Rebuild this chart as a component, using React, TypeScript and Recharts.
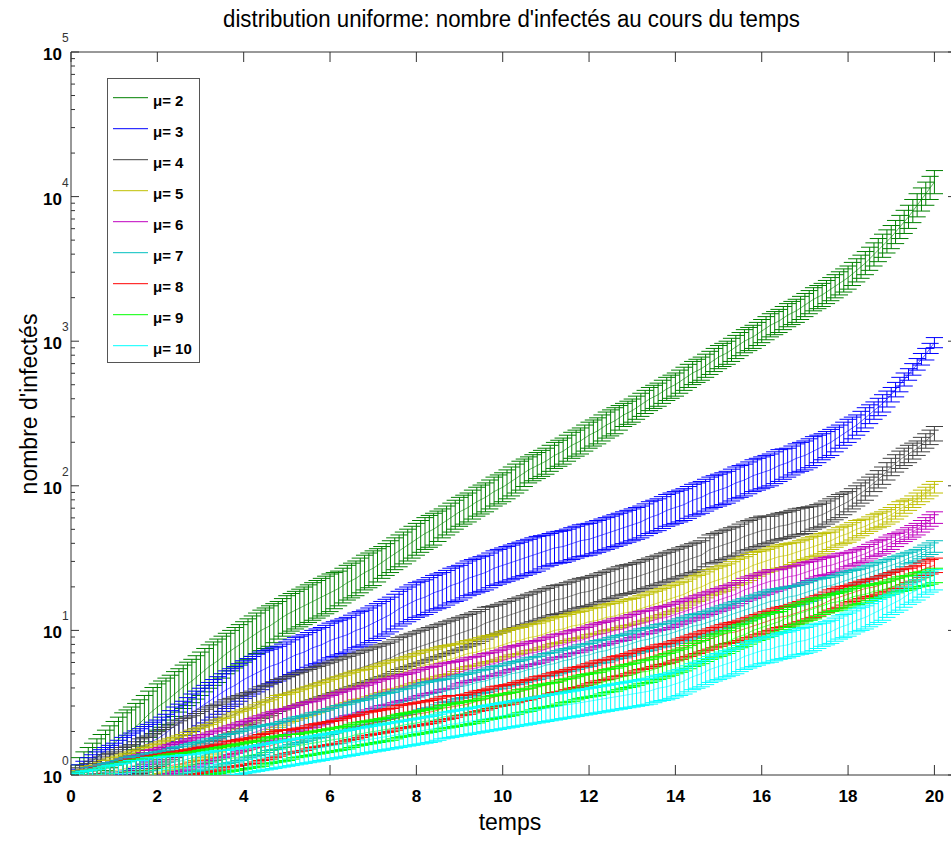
import React from 'react';
import { LineChart, Line, XAxis, YAxis, ErrorBar, ReferenceArea } from 'recharts';

// Time axis (temps): one sample every 0.1, each row covers one unit of time
const times = [
  0,
  0.1, 0.2, 0.3, 0.4, 0.5, 0.6, 0.7, 0.8, 0.9, 1,
  1.1, 1.2, 1.3, 1.4, 1.5, 1.6, 1.7, 1.8, 1.9, 2,
  2.1, 2.2, 2.3, 2.4, 2.5, 2.6, 2.7, 2.8, 2.9, 3,
  3.1, 3.2, 3.3, 3.4, 3.5, 3.6, 3.7, 3.8, 3.9, 4,
  4.1, 4.2, 4.3, 4.4, 4.5, 4.6, 4.7, 4.8, 4.9, 5,
  5.1, 5.2, 5.3, 5.4, 5.5, 5.6, 5.7, 5.8, 5.9, 6,
  6.1, 6.2, 6.3, 6.4, 6.5, 6.6, 6.7, 6.8, 6.9, 7,
  7.1, 7.2, 7.3, 7.4, 7.5, 7.6, 7.7, 7.8, 7.9, 8,
  8.1, 8.2, 8.3, 8.4, 8.5, 8.6, 8.7, 8.8, 8.9, 9,
  9.1, 9.2, 9.3, 9.4, 9.5, 9.6, 9.7, 9.8, 9.9, 10,
  10.1, 10.2, 10.3, 10.4, 10.5, 10.6, 10.7, 10.8, 10.9, 11,
  11.1, 11.2, 11.3, 11.4, 11.5, 11.6, 11.7, 11.8, 11.9, 12,
  12.1, 12.2, 12.3, 12.4, 12.5, 12.6, 12.7, 12.8, 12.9, 13,
  13.1, 13.2, 13.3, 13.4, 13.5, 13.6, 13.7, 13.8, 13.9, 14,
  14.1, 14.2, 14.3, 14.4, 14.5, 14.6, 14.7, 14.8, 14.9, 15,
  15.1, 15.2, 15.3, 15.4, 15.5, 15.6, 15.7, 15.8, 15.9, 16,
  16.1, 16.2, 16.3, 16.4, 16.5, 16.6, 16.7, 16.8, 16.9, 17,
  17.1, 17.2, 17.3, 17.4, 17.5, 17.6, 17.7, 17.8, 17.9, 18,
  18.1, 18.2, 18.3, 18.4, 18.5, 18.6, 18.7, 18.8, 18.9, 19,
  19.1, 19.2, 19.3, 19.4, 19.5, 19.6, 19.7, 19.8, 19.9, 20,
];

// Mean number of infected, as log10 (decades), for each mu
const mu2 = [
  0,
  0.02, 0.04, 0.06, 0.08, 0.10, 0.12, 0.145, 0.17, 0.195, 0.22,
  0.245, 0.27, 0.29, 0.31, 0.335, 0.36, 0.39, 0.42, 0.445, 0.47,
  0.49, 0.51, 0.535, 0.56, 0.585, 0.61, 0.63, 0.65, 0.675, 0.70,
  0.725, 0.75, 0.77, 0.79, 0.815, 0.84, 0.86, 0.88, 0.90, 0.92,
  0.94, 0.96, 0.98, 1.00, 1.015, 1.03, 1.05, 1.07, 1.09, 1.11,
  1.125, 1.14, 1.155, 1.17, 1.185, 1.20, 1.215, 1.23, 1.245, 1.26,
  1.275, 1.29, 1.31, 1.33, 1.345, 1.36, 1.38, 1.40, 1.415, 1.43,
  1.45, 1.47, 1.49, 1.51, 1.53, 1.55, 1.57, 1.59, 1.61, 1.63,
  1.65, 1.67, 1.685, 1.70, 1.72, 1.74, 1.76, 1.78, 1.80, 1.82,
  1.835, 1.85, 1.87, 1.89, 1.905, 1.92, 1.94, 1.96, 1.975, 1.99,
  2.01, 2.03, 2.05, 2.07, 2.09, 2.11, 2.125, 2.14, 2.155, 2.17,
  2.19, 2.21, 2.225, 2.24, 2.26, 2.28, 2.295, 2.31, 2.33, 2.35,
  2.365, 2.38, 2.40, 2.42, 2.435, 2.45, 2.47, 2.49, 2.505, 2.52,
  2.54, 2.56, 2.58, 2.60, 2.615, 2.63, 2.65, 2.67, 2.685, 2.70,
  2.72, 2.74, 2.76, 2.78, 2.795, 2.81, 2.83, 2.85, 2.87, 2.89,
  2.905, 2.92, 2.94, 2.96, 2.98, 3.00, 3.015, 3.03, 3.05, 3.07,
  3.09, 3.11, 3.125, 3.14, 3.16, 3.18, 3.195, 3.21, 3.23, 3.25,
  3.27, 3.29, 3.305, 3.32, 3.34, 3.36, 3.38, 3.40, 3.42, 3.44,
  3.465, 3.49, 3.515, 3.54, 3.57, 3.60, 3.63, 3.66, 3.69, 3.72,
  3.755, 3.79, 3.825, 3.86, 3.90, 3.94, 3.98, 4.02, 4.06, 4.10,
];
const mu3 = [
  0,
  0.01, 0.02, 0.03, 0.04, 0.05, 0.06, 0.07, 0.08, 0.09, 0.10,
  0.115, 0.13, 0.145, 0.16, 0.175, 0.19, 0.205, 0.22, 0.235, 0.25,
  0.27, 0.29, 0.315, 0.34, 0.36, 0.38, 0.405, 0.43, 0.45, 0.47,
  0.49, 0.51, 0.53, 0.55, 0.57, 0.59, 0.605, 0.62, 0.64, 0.66,
  0.675, 0.69, 0.705, 0.72, 0.735, 0.75, 0.76, 0.77, 0.785, 0.80,
  0.815, 0.83, 0.84, 0.85, 0.865, 0.88, 0.89, 0.90, 0.915, 0.93,
  0.94, 0.95, 0.96, 0.97, 0.985, 1.00, 1.01, 1.02, 1.035, 1.05,
  1.065, 1.08, 1.095, 1.11, 1.13, 1.15, 1.165, 1.18, 1.195, 1.21,
  1.22, 1.23, 1.245, 1.26, 1.27, 1.28, 1.295, 1.31, 1.32, 1.33,
  1.345, 1.36, 1.37, 1.38, 1.39, 1.40, 1.415, 1.43, 1.44, 1.45,
  1.46, 1.47, 1.48, 1.49, 1.50, 1.51, 1.52, 1.53, 1.54, 1.55,
  1.56, 1.57, 1.575, 1.58, 1.59, 1.60, 1.61, 1.62, 1.625, 1.63,
  1.64, 1.65, 1.66, 1.67, 1.68, 1.69, 1.70, 1.71, 1.72, 1.73,
  1.74, 1.75, 1.765, 1.78, 1.79, 1.80, 1.815, 1.83, 1.84, 1.85,
  1.86, 1.87, 1.885, 1.90, 1.91, 1.92, 1.935, 1.95, 1.96, 1.97,
  1.98, 1.99, 2.005, 2.02, 2.03, 2.04, 2.055, 2.07, 2.08, 2.09,
  2.10, 2.11, 2.125, 2.14, 2.15, 2.16, 2.175, 2.19, 2.20, 2.21,
  2.225, 2.24, 2.255, 2.27, 2.285, 2.30, 2.32, 2.34, 2.36, 2.38,
  2.40, 2.42, 2.445, 2.47, 2.495, 2.52, 2.545, 2.57, 2.60, 2.63,
  2.665, 2.70, 2.735, 2.77, 2.805, 2.84, 2.875, 2.91, 2.95, 2.99,
];
const mu4 = [
  0,
  0.005, 0.01, 0.015, 0.02, 0.025, 0.03, 0.04, 0.05, 0.055, 0.06,
  0.07, 0.08, 0.09, 0.10, 0.115, 0.13, 0.14, 0.15, 0.165, 0.18,
  0.195, 0.21, 0.225, 0.24, 0.255, 0.27, 0.28, 0.29, 0.305, 0.32,
  0.335, 0.35, 0.36, 0.37, 0.385, 0.40, 0.41, 0.42, 0.435, 0.45,
  0.46, 0.47, 0.485, 0.50, 0.51, 0.52, 0.535, 0.55, 0.56, 0.57,
  0.58, 0.59, 0.60, 0.61, 0.62, 0.63, 0.64, 0.65, 0.66, 0.67,
  0.68, 0.69, 0.70, 0.71, 0.72, 0.73, 0.74, 0.75, 0.76, 0.77,
  0.78, 0.79, 0.80, 0.81, 0.825, 0.84, 0.85, 0.86, 0.87, 0.88,
  0.89, 0.90, 0.91, 0.92, 0.93, 0.94, 0.95, 0.96, 0.97, 0.98,
  0.99, 1.00, 1.01, 1.02, 1.035, 1.05, 1.06, 1.07, 1.08, 1.09,
  1.10, 1.11, 1.12, 1.13, 1.14, 1.15, 1.16, 1.17, 1.18, 1.19,
  1.20, 1.21, 1.215, 1.22, 1.23, 1.24, 1.25, 1.26, 1.265, 1.27,
  1.28, 1.29, 1.30, 1.31, 1.32, 1.33, 1.34, 1.35, 1.355, 1.36,
  1.37, 1.38, 1.39, 1.40, 1.41, 1.42, 1.43, 1.44, 1.45, 1.46,
  1.47, 1.48, 1.49, 1.50, 1.51, 1.52, 1.54, 1.56, 1.57, 1.58,
  1.59, 1.60, 1.61, 1.62, 1.635, 1.65, 1.66, 1.67, 1.68, 1.69,
  1.695, 1.70, 1.71, 1.72, 1.725, 1.73, 1.74, 1.75, 1.755, 1.76,
  1.77, 1.78, 1.79, 1.80, 1.815, 1.83, 1.845, 1.86, 1.875, 1.89,
  1.91, 1.93, 1.95, 1.97, 1.995, 2.02, 2.045, 2.07, 2.10, 2.13,
  2.155, 2.18, 2.20, 2.22, 2.24, 2.26, 2.285, 2.31, 2.335, 2.36,
];
const mu5 = [
  0,
  0.00, 0.00, 0.00, 0.01, 0.01, 0.01, 0.015, 0.02, 0.025, 0.03,
  0.035, 0.04, 0.05, 0.06, 0.065, 0.07, 0.08, 0.09, 0.10, 0.11,
  0.12, 0.13, 0.14, 0.15, 0.16, 0.17, 0.185, 0.20, 0.21, 0.22,
  0.23, 0.24, 0.255, 0.27, 0.28, 0.29, 0.305, 0.32, 0.33, 0.34,
  0.35, 0.36, 0.375, 0.39, 0.40, 0.41, 0.425, 0.44, 0.45, 0.46,
  0.47, 0.48, 0.49, 0.50, 0.51, 0.52, 0.53, 0.54, 0.55, 0.56,
  0.57, 0.58, 0.59, 0.60, 0.61, 0.62, 0.625, 0.63, 0.64, 0.65,
  0.66, 0.67, 0.68, 0.69, 0.695, 0.70, 0.71, 0.72, 0.73, 0.74,
  0.75, 0.76, 0.765, 0.77, 0.78, 0.79, 0.795, 0.80, 0.81, 0.82,
  0.83, 0.84, 0.845, 0.85, 0.86, 0.87, 0.875, 0.88, 0.89, 0.90,
  0.91, 0.92, 0.925, 0.93, 0.94, 0.95, 0.955, 0.96, 0.97, 0.98,
  0.99, 1.00, 1.005, 1.01, 1.02, 1.03, 1.035, 1.04, 1.05, 1.06,
  1.065, 1.07, 1.08, 1.09, 1.095, 1.10, 1.11, 1.12, 1.125, 1.13,
  1.14, 1.15, 1.16, 1.17, 1.18, 1.19, 1.20, 1.21, 1.22, 1.23,
  1.24, 1.25, 1.265, 1.28, 1.29, 1.30, 1.315, 1.33, 1.34, 1.35,
  1.36, 1.37, 1.385, 1.40, 1.41, 1.42, 1.435, 1.45, 1.46, 1.47,
  1.48, 1.49, 1.50, 1.51, 1.515, 1.52, 1.53, 1.54, 1.55, 1.56,
  1.57, 1.58, 1.59, 1.60, 1.61, 1.62, 1.635, 1.65, 1.66, 1.67,
  1.685, 1.70, 1.71, 1.72, 1.735, 1.75, 1.76, 1.77, 1.785, 1.80,
  1.82, 1.84, 1.855, 1.87, 1.89, 1.91, 1.93, 1.95, 1.97, 1.99,
];
const mu6 = [
  0,
  0.00, 0.00, 0.00, 0.01, 0.01, 0.01, 0.015, 0.02, 0.02, 0.02,
  0.025, 0.03, 0.035, 0.04, 0.045, 0.05, 0.06, 0.07, 0.075, 0.08,
  0.09, 0.10, 0.11, 0.12, 0.125, 0.13, 0.14, 0.15, 0.16, 0.17,
  0.18, 0.19, 0.20, 0.21, 0.22, 0.23, 0.24, 0.25, 0.26, 0.27,
  0.28, 0.29, 0.30, 0.31, 0.32, 0.33, 0.34, 0.35, 0.36, 0.37,
  0.38, 0.39, 0.40, 0.41, 0.415, 0.42, 0.43, 0.44, 0.45, 0.46,
  0.47, 0.48, 0.49, 0.50, 0.505, 0.51, 0.52, 0.53, 0.54, 0.55,
  0.56, 0.57, 0.575, 0.58, 0.59, 0.60, 0.605, 0.61, 0.62, 0.63,
  0.64, 0.65, 0.655, 0.66, 0.67, 0.68, 0.685, 0.69, 0.70, 0.71,
  0.72, 0.73, 0.735, 0.74, 0.75, 0.76, 0.765, 0.77, 0.78, 0.79,
  0.80, 0.81, 0.815, 0.82, 0.83, 0.84, 0.845, 0.85, 0.86, 0.87,
  0.88, 0.89, 0.895, 0.90, 0.91, 0.92, 0.925, 0.93, 0.94, 0.95,
  0.96, 0.97, 0.975, 0.98, 0.99, 1.00, 1.005, 1.01, 1.02, 1.03,
  1.04, 1.05, 1.055, 1.06, 1.07, 1.08, 1.085, 1.09, 1.10, 1.11,
  1.12, 1.13, 1.14, 1.15, 1.16, 1.17, 1.18, 1.19, 1.20, 1.21,
  1.22, 1.23, 1.24, 1.25, 1.265, 1.28, 1.29, 1.30, 1.31, 1.32,
  1.33, 1.34, 1.345, 1.35, 1.36, 1.37, 1.375, 1.38, 1.39, 1.40,
  1.41, 1.42, 1.43, 1.44, 1.445, 1.45, 1.46, 1.47, 1.48, 1.49,
  1.50, 1.51, 1.52, 1.53, 1.545, 1.56, 1.57, 1.58, 1.595, 1.61,
  1.625, 1.64, 1.655, 1.67, 1.685, 1.70, 1.72, 1.74, 1.76, 1.78,
];
const mu7 = [
  0,
  0.00, 0.00, 0.00, 0.01, 0.01, 0.01, 0.015, 0.02, 0.02, 0.02,
  0.025, 0.03, 0.035, 0.04, 0.04, 0.04, 0.045, 0.05, 0.055, 0.06,
  0.065, 0.07, 0.08, 0.09, 0.095, 0.10, 0.11, 0.12, 0.125, 0.13,
  0.14, 0.15, 0.155, 0.16, 0.17, 0.18, 0.185, 0.19, 0.20, 0.21,
  0.22, 0.23, 0.235, 0.24, 0.25, 0.26, 0.265, 0.27, 0.28, 0.29,
  0.30, 0.31, 0.315, 0.32, 0.33, 0.34, 0.345, 0.35, 0.36, 0.37,
  0.38, 0.39, 0.395, 0.40, 0.41, 0.42, 0.425, 0.43, 0.44, 0.45,
  0.46, 0.47, 0.475, 0.48, 0.49, 0.50, 0.505, 0.51, 0.52, 0.53,
  0.54, 0.55, 0.555, 0.56, 0.57, 0.58, 0.585, 0.59, 0.60, 0.61,
  0.615, 0.62, 0.63, 0.64, 0.645, 0.65, 0.66, 0.67, 0.675, 0.68,
  0.69, 0.70, 0.705, 0.71, 0.72, 0.73, 0.735, 0.74, 0.75, 0.76,
  0.765, 0.77, 0.78, 0.79, 0.795, 0.80, 0.81, 0.82, 0.825, 0.83,
  0.84, 0.85, 0.855, 0.86, 0.87, 0.88, 0.885, 0.89, 0.90, 0.91,
  0.92, 0.93, 0.935, 0.94, 0.95, 0.96, 0.965, 0.97, 0.98, 0.99,
  1.00, 1.01, 1.02, 1.03, 1.035, 1.04, 1.05, 1.06, 1.07, 1.08,
  1.09, 1.10, 1.11, 1.12, 1.13, 1.14, 1.15, 1.16, 1.17, 1.18,
  1.19, 1.20, 1.205, 1.21, 1.22, 1.23, 1.235, 1.24, 1.25, 1.26,
  1.27, 1.28, 1.29, 1.30, 1.305, 1.31, 1.32, 1.33, 1.34, 1.35,
  1.36, 1.37, 1.38, 1.39, 1.40, 1.41, 1.42, 1.43, 1.44, 1.45,
  1.46, 1.47, 1.485, 1.50, 1.51, 1.52, 1.535, 1.55, 1.565, 1.58,
];
const mu8 = [
  0,
  0.00, 0.00, 0.00, 0.00, 0.00, 0.01, 0.01, 0.01, 0.01, 0.01,
  0.015, 0.02, 0.025, 0.03, 0.03, 0.03, 0.035, 0.04, 0.045, 0.05,
  0.055, 0.06, 0.065, 0.07, 0.075, 0.08, 0.085, 0.09, 0.095, 0.10,
  0.105, 0.11, 0.115, 0.12, 0.13, 0.14, 0.145, 0.15, 0.155, 0.16,
  0.165, 0.17, 0.18, 0.19, 0.195, 0.20, 0.21, 0.22, 0.225, 0.23,
  0.235, 0.24, 0.245, 0.25, 0.26, 0.27, 0.275, 0.28, 0.285, 0.29,
  0.295, 0.30, 0.31, 0.32, 0.325, 0.33, 0.34, 0.35, 0.355, 0.36,
  0.365, 0.37, 0.375, 0.38, 0.39, 0.40, 0.405, 0.41, 0.415, 0.42,
  0.425, 0.43, 0.435, 0.44, 0.45, 0.46, 0.465, 0.47, 0.475, 0.48,
  0.485, 0.49, 0.50, 0.51, 0.515, 0.52, 0.53, 0.54, 0.545, 0.55,
  0.555, 0.56, 0.57, 0.58, 0.585, 0.59, 0.60, 0.61, 0.615, 0.62,
  0.63, 0.64, 0.645, 0.65, 0.66, 0.67, 0.675, 0.68, 0.69, 0.70,
  0.71, 0.72, 0.725, 0.73, 0.74, 0.75, 0.755, 0.76, 0.77, 0.78,
  0.79, 0.80, 0.805, 0.81, 0.82, 0.83, 0.835, 0.84, 0.85, 0.86,
  0.87, 0.88, 0.89, 0.90, 0.91, 0.92, 0.93, 0.94, 0.95, 0.96,
  0.97, 0.98, 0.985, 0.99, 1.00, 1.01, 1.02, 1.03, 1.04, 1.05,
  1.06, 1.07, 1.08, 1.09, 1.095, 1.10, 1.11, 1.12, 1.13, 1.14,
  1.15, 1.16, 1.17, 1.18, 1.195, 1.21, 1.22, 1.23, 1.24, 1.25,
  1.26, 1.27, 1.28, 1.29, 1.295, 1.30, 1.31, 1.32, 1.33, 1.34,
  1.35, 1.36, 1.37, 1.38, 1.39, 1.40, 1.415, 1.43, 1.44, 1.45,
];
const mu9 = [
  0,
  0.00, 0.00, 0.00, 0.00, 0.00, 0.00, 0.005, 0.01, 0.01, 0.01,
  0.015, 0.02, 0.02, 0.02, 0.025, 0.03, 0.03, 0.03, 0.035, 0.04,
  0.045, 0.05, 0.055, 0.06, 0.06, 0.06, 0.065, 0.07, 0.075, 0.08,
  0.085, 0.09, 0.095, 0.10, 0.105, 0.11, 0.115, 0.12, 0.125, 0.13,
  0.135, 0.14, 0.145, 0.15, 0.16, 0.17, 0.175, 0.18, 0.185, 0.19,
  0.195, 0.20, 0.205, 0.21, 0.215, 0.22, 0.225, 0.23, 0.235, 0.24,
  0.245, 0.25, 0.255, 0.26, 0.27, 0.28, 0.285, 0.29, 0.295, 0.30,
  0.305, 0.31, 0.315, 0.32, 0.33, 0.34, 0.345, 0.35, 0.355, 0.36,
  0.365, 0.37, 0.375, 0.38, 0.39, 0.40, 0.405, 0.41, 0.415, 0.42,
  0.425, 0.43, 0.435, 0.44, 0.45, 0.46, 0.465, 0.47, 0.475, 0.48,
  0.485, 0.49, 0.50, 0.51, 0.515, 0.52, 0.53, 0.54, 0.545, 0.55,
  0.555, 0.56, 0.57, 0.58, 0.585, 0.59, 0.60, 0.61, 0.615, 0.62,
  0.625, 0.63, 0.64, 0.65, 0.655, 0.66, 0.67, 0.68, 0.685, 0.69,
  0.70, 0.71, 0.715, 0.72, 0.73, 0.74, 0.75, 0.76, 0.77, 0.78,
  0.79, 0.80, 0.815, 0.83, 0.84, 0.85, 0.865, 0.88, 0.89, 0.90,
  0.91, 0.92, 0.935, 0.95, 0.96, 0.97, 0.985, 1.00, 1.01, 1.02,
  1.03, 1.04, 1.05, 1.06, 1.075, 1.09, 1.10, 1.11, 1.12, 1.13,
  1.14, 1.15, 1.16, 1.17, 1.18, 1.19, 1.195, 1.20, 1.21, 1.22,
  1.23, 1.24, 1.245, 1.25, 1.26, 1.27, 1.275, 1.28, 1.29, 1.30,
  1.31, 1.32, 1.325, 1.33, 1.34, 1.35, 1.355, 1.36, 1.37, 1.38,
];
const mu10 = [
  0,
  0.00, 0.00, 0.00, 0.00, 0.00, 0.00, 0.005, 0.01, 0.01, 0.01,
  0.01, 0.01, 0.015, 0.02, 0.02, 0.02, 0.025, 0.03, 0.03, 0.03,
  0.035, 0.04, 0.04, 0.04, 0.045, 0.05, 0.05, 0.05, 0.055, 0.06,
  0.065, 0.07, 0.075, 0.08, 0.08, 0.08, 0.085, 0.09, 0.095, 0.10,
  0.105, 0.11, 0.115, 0.12, 0.125, 0.13, 0.135, 0.14, 0.145, 0.15,
  0.155, 0.16, 0.165, 0.17, 0.175, 0.18, 0.185, 0.19, 0.195, 0.20,
  0.205, 0.21, 0.215, 0.22, 0.225, 0.23, 0.235, 0.24, 0.245, 0.25,
  0.255, 0.26, 0.265, 0.27, 0.275, 0.28, 0.285, 0.29, 0.295, 0.30,
  0.305, 0.31, 0.315, 0.32, 0.33, 0.34, 0.345, 0.35, 0.355, 0.36,
  0.365, 0.37, 0.375, 0.38, 0.385, 0.39, 0.395, 0.40, 0.405, 0.41,
  0.415, 0.42, 0.425, 0.43, 0.435, 0.44, 0.445, 0.45, 0.455, 0.46,
  0.465, 0.47, 0.475, 0.48, 0.485, 0.49, 0.495, 0.50, 0.505, 0.51,
  0.515, 0.52, 0.525, 0.53, 0.535, 0.54, 0.545, 0.55, 0.555, 0.56,
  0.565, 0.57, 0.575, 0.58, 0.59, 0.60, 0.605, 0.61, 0.62, 0.63,
  0.64, 0.65, 0.665, 0.68, 0.69, 0.70, 0.715, 0.73, 0.74, 0.75,
  0.76, 0.77, 0.78, 0.79, 0.805, 0.82, 0.83, 0.84, 0.85, 0.86,
  0.865, 0.87, 0.88, 0.89, 0.895, 0.90, 0.91, 0.92, 0.925, 0.93,
  0.94, 0.95, 0.96, 0.97, 0.98, 0.99, 1.005, 1.02, 1.03, 1.04,
  1.055, 1.07, 1.08, 1.09, 1.105, 1.12, 1.135, 1.15, 1.165, 1.18,
  1.195, 1.21, 1.23, 1.25, 1.265, 1.28, 1.30, 1.32, 1.335, 1.35,
];

// Half-height of each error bar, in decades
const err2 = [
  0,
  0.05, 0.08, 0.10, 0.11, 0.12, 0.13, 0.135, 0.14, 0.145, 0.15,
  0.155, 0.16, 0.16, 0.16, 0.16, 0.16, 0.16, 0.16, 0.16, 0.16,
  0.16, 0.16, 0.155, 0.155, 0.15, 0.15, 0.15, 0.15, 0.15, 0.15,
  0.15, 0.15, 0.15, 0.15, 0.145, 0.14, 0.14, 0.14, 0.14, 0.14,
  0.14, 0.14, 0.14, 0.14, 0.14, 0.14, 0.135, 0.13, 0.13, 0.13,
  0.13, 0.13, 0.13, 0.13, 0.13, 0.13, 0.13, 0.13, 0.13, 0.13,
  0.125, 0.12, 0.12, 0.12, 0.12, 0.12, 0.12, 0.12, 0.12, 0.12,
  0.115, 0.11, 0.11, 0.11, 0.11, 0.11, 0.11, 0.11, 0.11, 0.11,
  0.11, 0.11, 0.11, 0.11, 0.105, 0.10, 0.10, 0.10, 0.10, 0.10,
  0.10, 0.10, 0.10, 0.10, 0.10, 0.10, 0.10, 0.10, 0.10, 0.10,
  0.10, 0.10, 0.10, 0.10, 0.095, 0.09, 0.09, 0.09, 0.09, 0.09,
  0.09, 0.09, 0.09, 0.09, 0.09, 0.09, 0.09, 0.09, 0.09, 0.09,
  0.09, 0.09, 0.09, 0.09, 0.09, 0.09, 0.085, 0.08, 0.08, 0.08,
  0.08, 0.08, 0.08, 0.08, 0.08, 0.08, 0.08, 0.08, 0.08, 0.08,
  0.08, 0.08, 0.08, 0.08, 0.08, 0.08, 0.08, 0.08, 0.08, 0.08,
  0.08, 0.08, 0.08, 0.08, 0.08, 0.08, 0.08, 0.08, 0.08, 0.08,
  0.08, 0.08, 0.08, 0.08, 0.08, 0.08, 0.08, 0.08, 0.08, 0.08,
  0.08, 0.08, 0.08, 0.08, 0.08, 0.08, 0.08, 0.08, 0.08, 0.08,
  0.08, 0.08, 0.08, 0.08, 0.08, 0.08, 0.08, 0.08, 0.08, 0.08,
  0.08, 0.08, 0.08, 0.08, 0.08, 0.08, 0.08, 0.08, 0.08, 0.08,
];
const err3 = [
  0,
  0.03, 0.05, 0.065, 0.08, 0.09, 0.10, 0.105, 0.11, 0.115, 0.12,
  0.125, 0.13, 0.13, 0.13, 0.13, 0.13, 0.13, 0.13, 0.13, 0.13,
  0.13, 0.13, 0.13, 0.13, 0.13, 0.13, 0.13, 0.13, 0.13, 0.13,
  0.13, 0.13, 0.13, 0.13, 0.13, 0.13, 0.13, 0.13, 0.13, 0.13,
  0.13, 0.13, 0.13, 0.13, 0.125, 0.12, 0.12, 0.12, 0.12, 0.12,
  0.12, 0.12, 0.12, 0.12, 0.12, 0.12, 0.12, 0.12, 0.12, 0.12,
  0.12, 0.12, 0.12, 0.12, 0.12, 0.12, 0.12, 0.12, 0.12, 0.12,
  0.12, 0.12, 0.12, 0.12, 0.12, 0.12, 0.12, 0.12, 0.12, 0.12,
  0.12, 0.12, 0.12, 0.12, 0.12, 0.12, 0.12, 0.12, 0.12, 0.12,
  0.12, 0.12, 0.12, 0.12, 0.12, 0.12, 0.12, 0.12, 0.12, 0.12,
  0.12, 0.12, 0.12, 0.12, 0.12, 0.12, 0.12, 0.12, 0.115, 0.11,
  0.11, 0.11, 0.11, 0.11, 0.11, 0.11, 0.11, 0.11, 0.11, 0.11,
  0.11, 0.11, 0.11, 0.11, 0.11, 0.11, 0.11, 0.11, 0.11, 0.11,
  0.11, 0.11, 0.11, 0.11, 0.11, 0.11, 0.11, 0.11, 0.11, 0.11,
  0.11, 0.11, 0.11, 0.11, 0.11, 0.11, 0.11, 0.11, 0.11, 0.11,
  0.11, 0.11, 0.11, 0.11, 0.11, 0.11, 0.11, 0.11, 0.11, 0.11,
  0.11, 0.11, 0.11, 0.11, 0.105, 0.10, 0.10, 0.10, 0.10, 0.10,
  0.10, 0.10, 0.095, 0.09, 0.09, 0.09, 0.085, 0.08, 0.08, 0.08,
  0.075, 0.07, 0.07, 0.07, 0.065, 0.06, 0.06, 0.06, 0.055, 0.05,
  0.05, 0.05, 0.045, 0.04, 0.04, 0.04, 0.04, 0.04, 0.035, 0.035,
];
const err4 = [
  0,
  0.02, 0.04, 0.05, 0.06, 0.07, 0.08, 0.085, 0.09, 0.095, 0.10,
  0.105, 0.11, 0.11, 0.11, 0.115, 0.12, 0.12, 0.12, 0.12, 0.12,
  0.12, 0.12, 0.12, 0.12, 0.12, 0.12, 0.12, 0.12, 0.12, 0.12,
  0.12, 0.12, 0.12, 0.12, 0.12, 0.12, 0.12, 0.12, 0.115, 0.11,
  0.11, 0.11, 0.11, 0.11, 0.11, 0.11, 0.11, 0.11, 0.11, 0.11,
  0.11, 0.11, 0.11, 0.11, 0.11, 0.11, 0.11, 0.11, 0.11, 0.11,
  0.11, 0.11, 0.11, 0.11, 0.11, 0.11, 0.11, 0.11, 0.11, 0.11,
  0.11, 0.11, 0.11, 0.11, 0.11, 0.11, 0.11, 0.11, 0.11, 0.11,
  0.11, 0.11, 0.11, 0.11, 0.11, 0.11, 0.11, 0.11, 0.11, 0.11,
  0.11, 0.11, 0.11, 0.11, 0.11, 0.11, 0.105, 0.10, 0.10, 0.10,
  0.10, 0.10, 0.10, 0.10, 0.10, 0.10, 0.10, 0.10, 0.10, 0.10,
  0.10, 0.10, 0.10, 0.10, 0.10, 0.10, 0.10, 0.10, 0.10, 0.10,
  0.10, 0.10, 0.10, 0.10, 0.10, 0.10, 0.10, 0.10, 0.10, 0.10,
  0.10, 0.10, 0.10, 0.10, 0.10, 0.10, 0.10, 0.10, 0.10, 0.10,
  0.10, 0.10, 0.10, 0.10, 0.10, 0.10, 0.10, 0.10, 0.10, 0.10,
  0.10, 0.10, 0.10, 0.10, 0.10, 0.10, 0.10, 0.10, 0.10, 0.10,
  0.095, 0.09, 0.09, 0.09, 0.09, 0.09, 0.09, 0.09, 0.09, 0.09,
  0.085, 0.08, 0.08, 0.08, 0.08, 0.08, 0.08, 0.08, 0.075, 0.07,
  0.07, 0.07, 0.07, 0.07, 0.065, 0.06, 0.06, 0.06, 0.06, 0.06,
  0.06, 0.06, 0.06, 0.06, 0.055, 0.05, 0.05, 0.05, 0.05, 0.05,
];
const err5 = [
  0,
  0.015, 0.03, 0.04, 0.05, 0.055, 0.06, 0.07, 0.08, 0.085, 0.09,
  0.095, 0.10, 0.10, 0.10, 0.105, 0.11, 0.11, 0.11, 0.11, 0.11,
  0.11, 0.11, 0.11, 0.11, 0.11, 0.11, 0.11, 0.11, 0.11, 0.11,
  0.11, 0.11, 0.11, 0.11, 0.11, 0.11, 0.11, 0.11, 0.11, 0.11,
  0.11, 0.11, 0.11, 0.11, 0.11, 0.11, 0.11, 0.11, 0.105, 0.10,
  0.10, 0.10, 0.10, 0.10, 0.10, 0.10, 0.10, 0.10, 0.10, 0.10,
  0.10, 0.10, 0.10, 0.10, 0.10, 0.10, 0.10, 0.10, 0.10, 0.10,
  0.10, 0.10, 0.10, 0.10, 0.10, 0.10, 0.10, 0.10, 0.10, 0.10,
  0.10, 0.10, 0.10, 0.10, 0.10, 0.10, 0.10, 0.10, 0.095, 0.09,
  0.09, 0.09, 0.09, 0.09, 0.09, 0.09, 0.09, 0.09, 0.09, 0.09,
  0.09, 0.09, 0.09, 0.09, 0.09, 0.09, 0.09, 0.09, 0.09, 0.09,
  0.09, 0.09, 0.09, 0.09, 0.09, 0.09, 0.09, 0.09, 0.09, 0.09,
  0.09, 0.09, 0.09, 0.09, 0.09, 0.09, 0.09, 0.09, 0.09, 0.09,
  0.09, 0.09, 0.09, 0.09, 0.09, 0.09, 0.09, 0.09, 0.09, 0.09,
  0.09, 0.09, 0.09, 0.09, 0.09, 0.09, 0.09, 0.09, 0.09, 0.09,
  0.09, 0.09, 0.09, 0.09, 0.09, 0.09, 0.09, 0.09, 0.085, 0.08,
  0.08, 0.08, 0.08, 0.08, 0.08, 0.08, 0.075, 0.07, 0.07, 0.07,
  0.07, 0.07, 0.07, 0.07, 0.065, 0.06, 0.06, 0.06, 0.06, 0.06,
  0.06, 0.06, 0.055, 0.05, 0.05, 0.05, 0.05, 0.05, 0.05, 0.05,
  0.05, 0.05, 0.045, 0.04, 0.04, 0.04, 0.04, 0.04, 0.04, 0.04,
];
const err6 = [
  0,
  0.01, 0.02, 0.03, 0.04, 0.045, 0.05, 0.055, 0.06, 0.065, 0.07,
  0.075, 0.08, 0.085, 0.09, 0.09, 0.09, 0.095, 0.10, 0.10, 0.10,
  0.10, 0.10, 0.10, 0.10, 0.10, 0.10, 0.10, 0.10, 0.10, 0.10,
  0.10, 0.10, 0.10, 0.10, 0.10, 0.10, 0.10, 0.10, 0.10, 0.10,
  0.10, 0.10, 0.10, 0.10, 0.10, 0.10, 0.10, 0.10, 0.095, 0.09,
  0.09, 0.09, 0.09, 0.09, 0.09, 0.09, 0.09, 0.09, 0.09, 0.09,
  0.09, 0.09, 0.09, 0.09, 0.09, 0.09, 0.09, 0.09, 0.09, 0.09,
  0.09, 0.09, 0.09, 0.09, 0.09, 0.09, 0.09, 0.09, 0.09, 0.09,
  0.09, 0.09, 0.09, 0.09, 0.09, 0.09, 0.09, 0.09, 0.085, 0.08,
  0.08, 0.08, 0.08, 0.08, 0.08, 0.08, 0.08, 0.08, 0.08, 0.08,
  0.08, 0.08, 0.08, 0.08, 0.08, 0.08, 0.08, 0.08, 0.08, 0.08,
  0.08, 0.08, 0.08, 0.08, 0.08, 0.08, 0.08, 0.08, 0.08, 0.08,
  0.08, 0.08, 0.08, 0.08, 0.08, 0.08, 0.08, 0.08, 0.08, 0.08,
  0.08, 0.08, 0.08, 0.08, 0.08, 0.08, 0.08, 0.08, 0.08, 0.08,
  0.08, 0.08, 0.08, 0.08, 0.08, 0.08, 0.08, 0.08, 0.08, 0.08,
  0.08, 0.08, 0.08, 0.08, 0.08, 0.08, 0.08, 0.08, 0.08, 0.08,
  0.08, 0.08, 0.075, 0.07, 0.07, 0.07, 0.07, 0.07, 0.07, 0.07,
  0.065, 0.06, 0.06, 0.06, 0.06, 0.06, 0.06, 0.06, 0.055, 0.05,
  0.05, 0.05, 0.05, 0.05, 0.05, 0.05, 0.05, 0.05, 0.05, 0.05,
  0.045, 0.04, 0.04, 0.04, 0.04, 0.04, 0.04, 0.04, 0.04, 0.04,
];
const err7 = [
  0,
  0.01, 0.02, 0.03, 0.04, 0.045, 0.05, 0.055, 0.06, 0.065, 0.07,
  0.075, 0.08, 0.085, 0.09, 0.09, 0.09, 0.095, 0.10, 0.10, 0.10,
  0.10, 0.10, 0.10, 0.10, 0.10, 0.10, 0.10, 0.10, 0.10, 0.10,
  0.10, 0.10, 0.10, 0.10, 0.10, 0.10, 0.10, 0.10, 0.10, 0.10,
  0.10, 0.10, 0.10, 0.10, 0.095, 0.09, 0.09, 0.09, 0.09, 0.09,
  0.09, 0.09, 0.09, 0.09, 0.09, 0.09, 0.09, 0.09, 0.09, 0.09,
  0.09, 0.09, 0.09, 0.09, 0.09, 0.09, 0.09, 0.09, 0.09, 0.09,
  0.09, 0.09, 0.09, 0.09, 0.09, 0.09, 0.09, 0.09, 0.09, 0.09,
  0.09, 0.09, 0.09, 0.09, 0.085, 0.08, 0.08, 0.08, 0.08, 0.08,
  0.08, 0.08, 0.08, 0.08, 0.08, 0.08, 0.08, 0.08, 0.08, 0.08,
  0.08, 0.08, 0.08, 0.08, 0.08, 0.08, 0.08, 0.08, 0.08, 0.08,
  0.08, 0.08, 0.08, 0.08, 0.08, 0.08, 0.08, 0.08, 0.08, 0.08,
  0.08, 0.08, 0.08, 0.08, 0.08, 0.08, 0.08, 0.08, 0.08, 0.08,
  0.08, 0.08, 0.08, 0.08, 0.08, 0.08, 0.08, 0.08, 0.08, 0.08,
  0.08, 0.08, 0.08, 0.08, 0.08, 0.08, 0.08, 0.08, 0.08, 0.08,
  0.08, 0.08, 0.08, 0.08, 0.08, 0.08, 0.08, 0.08, 0.08, 0.08,
  0.08, 0.08, 0.08, 0.08, 0.075, 0.07, 0.07, 0.07, 0.07, 0.07,
  0.07, 0.07, 0.065, 0.06, 0.06, 0.06, 0.06, 0.06, 0.06, 0.06,
  0.055, 0.05, 0.05, 0.05, 0.05, 0.05, 0.05, 0.05, 0.05, 0.05,
  0.05, 0.05, 0.045, 0.04, 0.04, 0.04, 0.04, 0.04, 0.04, 0.04,
];
const err8 = [
  0,
  0.01, 0.02, 0.025, 0.03, 0.035, 0.04, 0.045, 0.05, 0.055, 0.06,
  0.065, 0.07, 0.075, 0.08, 0.08, 0.08, 0.085, 0.09, 0.09, 0.09,
  0.09, 0.09, 0.09, 0.09, 0.09, 0.09, 0.09, 0.09, 0.09, 0.09,
  0.09, 0.09, 0.09, 0.09, 0.09, 0.09, 0.09, 0.09, 0.09, 0.09,
  0.09, 0.09, 0.09, 0.09, 0.09, 0.09, 0.09, 0.09, 0.085, 0.08,
  0.08, 0.08, 0.08, 0.08, 0.08, 0.08, 0.08, 0.08, 0.08, 0.08,
  0.08, 0.08, 0.08, 0.08, 0.08, 0.08, 0.08, 0.08, 0.08, 0.08,
  0.08, 0.08, 0.08, 0.08, 0.08, 0.08, 0.08, 0.08, 0.08, 0.08,
  0.08, 0.08, 0.08, 0.08, 0.08, 0.08, 0.08, 0.08, 0.075, 0.07,
  0.07, 0.07, 0.07, 0.07, 0.07, 0.07, 0.07, 0.07, 0.07, 0.07,
  0.07, 0.07, 0.07, 0.07, 0.07, 0.07, 0.07, 0.07, 0.07, 0.07,
  0.07, 0.07, 0.07, 0.07, 0.07, 0.07, 0.07, 0.07, 0.07, 0.07,
  0.07, 0.07, 0.07, 0.07, 0.07, 0.07, 0.07, 0.07, 0.07, 0.07,
  0.07, 0.07, 0.07, 0.07, 0.07, 0.07, 0.07, 0.07, 0.07, 0.07,
  0.07, 0.07, 0.07, 0.07, 0.07, 0.07, 0.07, 0.07, 0.07, 0.07,
  0.07, 0.07, 0.07, 0.07, 0.07, 0.07, 0.07, 0.07, 0.07, 0.07,
  0.07, 0.07, 0.07, 0.07, 0.07, 0.07, 0.07, 0.07, 0.07, 0.07,
  0.07, 0.07, 0.07, 0.07, 0.07, 0.07, 0.07, 0.07, 0.065, 0.06,
  0.06, 0.06, 0.06, 0.06, 0.06, 0.06, 0.06, 0.06, 0.06, 0.06,
  0.06, 0.06, 0.055, 0.05, 0.05, 0.05, 0.05, 0.05, 0.05, 0.05,
];
const err9 = [
  0,
  0.01, 0.02, 0.025, 0.03, 0.035, 0.04, 0.045, 0.05, 0.055, 0.06,
  0.065, 0.07, 0.075, 0.08, 0.08, 0.08, 0.085, 0.09, 0.09, 0.09,
  0.09, 0.09, 0.09, 0.09, 0.09, 0.09, 0.09, 0.09, 0.09, 0.09,
  0.09, 0.09, 0.09, 0.09, 0.09, 0.09, 0.09, 0.09, 0.09, 0.09,
  0.09, 0.09, 0.09, 0.09, 0.09, 0.09, 0.09, 0.09, 0.09, 0.09,
  0.085, 0.08, 0.08, 0.08, 0.08, 0.08, 0.08, 0.08, 0.08, 0.08,
  0.08, 0.08, 0.08, 0.08, 0.08, 0.08, 0.08, 0.08, 0.08, 0.08,
  0.08, 0.08, 0.08, 0.08, 0.08, 0.08, 0.08, 0.08, 0.08, 0.08,
  0.08, 0.08, 0.08, 0.08, 0.08, 0.08, 0.08, 0.08, 0.08, 0.08,
  0.08, 0.08, 0.08, 0.08, 0.08, 0.08, 0.08, 0.08, 0.08, 0.08,
  0.08, 0.08, 0.08, 0.08, 0.08, 0.08, 0.08, 0.08, 0.08, 0.08,
  0.08, 0.08, 0.08, 0.08, 0.08, 0.08, 0.08, 0.08, 0.08, 0.08,
  0.08, 0.08, 0.08, 0.08, 0.08, 0.08, 0.08, 0.08, 0.08, 0.08,
  0.08, 0.08, 0.08, 0.08, 0.08, 0.08, 0.08, 0.08, 0.08, 0.08,
  0.08, 0.08, 0.08, 0.08, 0.08, 0.08, 0.08, 0.08, 0.08, 0.08,
  0.08, 0.08, 0.08, 0.08, 0.08, 0.08, 0.08, 0.08, 0.08, 0.08,
  0.08, 0.08, 0.075, 0.07, 0.07, 0.07, 0.07, 0.07, 0.07, 0.07,
  0.07, 0.07, 0.065, 0.06, 0.06, 0.06, 0.06, 0.06, 0.06, 0.06,
  0.06, 0.06, 0.06, 0.06, 0.055, 0.05, 0.05, 0.05, 0.05, 0.05,
  0.05, 0.05, 0.05, 0.05, 0.05, 0.05, 0.05, 0.05, 0.05, 0.05,
];
const err10 = [
  0,
  0.01, 0.02, 0.025, 0.03, 0.035, 0.04, 0.045, 0.05, 0.055, 0.06,
  0.065, 0.07, 0.075, 0.08, 0.08, 0.08, 0.085, 0.09, 0.09, 0.09,
  0.09, 0.09, 0.09, 0.09, 0.09, 0.09, 0.09, 0.09, 0.09, 0.09,
  0.09, 0.09, 0.09, 0.09, 0.09, 0.09, 0.09, 0.09, 0.09, 0.09,
  0.09, 0.09, 0.09, 0.09, 0.09, 0.09, 0.09, 0.09, 0.09, 0.09,
  0.09, 0.09, 0.09, 0.09, 0.09, 0.09, 0.09, 0.09, 0.09, 0.09,
  0.09, 0.09, 0.09, 0.09, 0.09, 0.09, 0.09, 0.09, 0.09, 0.09,
  0.09, 0.09, 0.09, 0.09, 0.09, 0.09, 0.09, 0.09, 0.09, 0.09,
  0.09, 0.09, 0.09, 0.09, 0.09, 0.09, 0.09, 0.09, 0.09, 0.09,
  0.09, 0.09, 0.09, 0.09, 0.09, 0.09, 0.09, 0.09, 0.09, 0.09,
  0.09, 0.09, 0.09, 0.09, 0.09, 0.09, 0.09, 0.09, 0.09, 0.09,
  0.09, 0.09, 0.09, 0.09, 0.09, 0.09, 0.09, 0.09, 0.09, 0.09,
  0.09, 0.09, 0.09, 0.09, 0.09, 0.09, 0.09, 0.09, 0.09, 0.09,
  0.09, 0.09, 0.09, 0.09, 0.09, 0.09, 0.09, 0.09, 0.09, 0.09,
  0.09, 0.09, 0.09, 0.09, 0.09, 0.09, 0.09, 0.09, 0.09, 0.09,
  0.09, 0.09, 0.09, 0.09, 0.09, 0.09, 0.09, 0.09, 0.09, 0.09,
  0.09, 0.09, 0.09, 0.09, 0.09, 0.09, 0.09, 0.09, 0.09, 0.09,
  0.09, 0.09, 0.085, 0.08, 0.08, 0.08, 0.08, 0.08, 0.08, 0.08,
  0.08, 0.08, 0.08, 0.08, 0.08, 0.08, 0.08, 0.08, 0.075, 0.07,
  0.07, 0.07, 0.07, 0.07, 0.07, 0.07, 0.07, 0.07, 0.07, 0.07,
];

const muNames = ['μ= 2', 'μ= 3', 'μ= 4', 'μ= 5', 'μ= 6', 'μ= 7', 'μ= 8', 'μ= 9', 'μ= 10'];
const muColors = ['#008000', '#0000ff', '#404040', '#bfbf00', '#bf00bf', '#00bfbf', '#ff0000', '#00ff00', '#00ffff'];
const muMeans = [mu2, mu3, mu4, mu5, mu6, mu7, mu8, mu9, mu10];
const muErrors = [err2, err3, err4, err5, err6, err7, err8, err9, err10];

const xTicks = [0, 2, 4, 6, 8, 10, 12, 14, 16, 18, 20];
const decades = [0, 1, 2, 3, 4, 5];
const minorMultipliers = [2, 3, 4, 5, 6, 7, 8, 9];

const series = muNames.map((name, k) => ({
  name,
  color: muColors[k],
  key: `m${k}`,
  errKey: `e${k}`,
  values: muMeans[k],
  errors: muErrors[k],
}));

const table = times.map((t, i) => {
  const row: Record<string, number> = { t };
  series.forEach((s) => {
    row[s.key] = s.values[i];
    row[s.errKey] = s.errors[i];
  });
  return row;
});

// Log-axis tick positions (in decades): majors plus the 2..9 minor marks
const yTicks = [
  ...decades,
  ...decades.slice(0, 5).flatMap((d) => minorMultipliers.map((m) => d + Math.log10(m))),
];

const CHART_W = 960;
const CHART_H = 841;
const PLOT_L = 71;
const PLOT_R = 956;
const PLOT_T = 52;
const PLOT_B = 775;
const FONT = '"Liberation Sans", Arial, Helvetica, sans-serif';
const AXIS = '#333333';

function YTick(props: any) {
  const { payload } = props;
  const y = payload.coordinate;
  const v = payload.value;
  const major = Math.abs(v - Math.round(v)) < 1e-6;
  const len = major ? 8 : 4;
  return (
    <g>
      <line x1={PLOT_L} x2={PLOT_L + len} y1={y} y2={y} stroke={AXIS} strokeWidth={1} />
      <line x1={PLOT_R - len} x2={PLOT_R} y1={y} y2={y} stroke={AXIS} strokeWidth={1} />
      {major && (
        <g fontFamily={FONT}>
          <text x={62} y={y + 8} textAnchor="end" fontSize={17} fontWeight="bold" fill="#000">
            10
          </text>
          <text x={62} y={y - 10} fontSize={12} fill="#333">
            {Math.round(v)}
          </text>
        </g>
      )}
    </g>
  );
}

function XTick(props: any) {
  const { payload } = props;
  const x = payload.coordinate;
  return (
    <g>
      <line x1={x} x2={x} y1={PLOT_B} y2={PLOT_B - 10} stroke={AXIS} strokeWidth={1} />
      <line x1={x} x2={x} y1={PLOT_T} y2={PLOT_T + 10} stroke={AXIS} strokeWidth={1} />
      <text x={x} y={802} textAnchor="middle" fontSize={17} fontWeight="bold" fontFamily={FONT} fill="#000">
        {payload.value}
      </text>
    </g>
  );
}

function LegendBox() {
  const rowY = (i: number) => 18.7 + 31 * i;
  return (
    <div
      style={{
        position: 'absolute',
        left: 107,
        top: 78,
        width: 93,
        height: 285,
        border: '1px solid #555',
        background: '#fff',
        boxSizing: 'border-box',
      }}
    >
      <svg width={91} height={283} style={{ display: 'block' }}>
        {series.map((s, i) => (
          <g key={s.key}>
            <line x1={5} x2={40} y1={rowY(i)} y2={rowY(i)} stroke={s.color} strokeWidth={1} />
            <text x={45} y={rowY(i) + 8} fontSize={15} fontWeight="bold" fontFamily={FONT} fill="#000">
              {s.name}
            </text>
          </g>
        ))}
      </svg>
    </div>
  );
}

export default function App() {
  return (
    <div
      style={{
        position: 'absolute',
        left: 0,
        top: 0,
        width: 951,
        height: 841,
        overflow: 'hidden',
        background: '#fff',
        fontFamily: FONT,
      }}
    >
      <style>{`.recharts-errorBars { clip-path: url(#plotArea); }`}</style>
      <svg width={0} height={0} style={{ position: 'absolute' }}>
        <defs>
          <clipPath id="plotArea" clipPathUnits="userSpaceOnUse">
            <rect x={PLOT_L} y={PLOT_T} width={PLOT_R - PLOT_L} height={PLOT_B - PLOT_T} />
          </clipPath>
        </defs>
      </svg>
      <LineChart
        width={CHART_W}
        height={CHART_H}
        data={table}
        margin={{ top: PLOT_T, right: CHART_W - PLOT_R, bottom: CHART_H - PLOT_B - 1, left: PLOT_L - 1 }}
      >
        <XAxis
          type="number"
          dataKey="t"
          domain={[0, 20.5]}
          ticks={xTicks}
          interval={0}
          tick={<XTick />}
          tickLine={false}
          axisLine={false}
          height={1}
          allowDataOverflow
        />
        <YAxis
          type="number"
          domain={[0, 5]}
          ticks={yTicks}
          interval={0}
          tick={<YTick />}
          tickLine={false}
          axisLine={false}
          width={1}
          allowDataOverflow
        />
        {series.map((s) => (
          <Line
            key={s.key}
            type="linear"
            dataKey={s.key}
            name={s.name}
            stroke={s.color}
            strokeOpacity={0.6}
            strokeWidth={1}
            dot={false}
            activeDot={false}
            isAnimationActive={false}
          >
            <ErrorBar
              dataKey={s.errKey}
              direction="y"
              width={8.6}
              stroke={s.color}
              strokeWidth={1}
              strokeOpacity={1}
              isAnimationActive={false}
            />
          </Line>
        ))}
        <ReferenceArea
          x1={0}
          x2={20.5}
          y1={0}
          y2={5}
          fill="none"
          fillOpacity={0}
          stroke={AXIS}
          strokeWidth={1}
          ifOverflow="visible"
        />
      </LineChart>

      <svg
        width={951}
        height={841}
        style={{ position: 'absolute', left: 0, top: 0, pointerEvents: 'none' }}
        fontFamily={FONT}
      >
        <text x={223} y={27} fontSize={23} fill="#000" textLength={577} lengthAdjust="spacingAndGlyphs">
          distribution uniforme: nombre d'infectés au cours du temps
        </text>
        <text x={510} y={830} fontSize={23} textAnchor="middle" fill="#000">
          temps
        </text>
        <text transform="translate(37,404) rotate(-90)" fontSize={23} textAnchor="middle" fill="#000">
          nombre d'infectés
        </text>
      </svg>

      <LegendBox />
    </div>
  );
}
